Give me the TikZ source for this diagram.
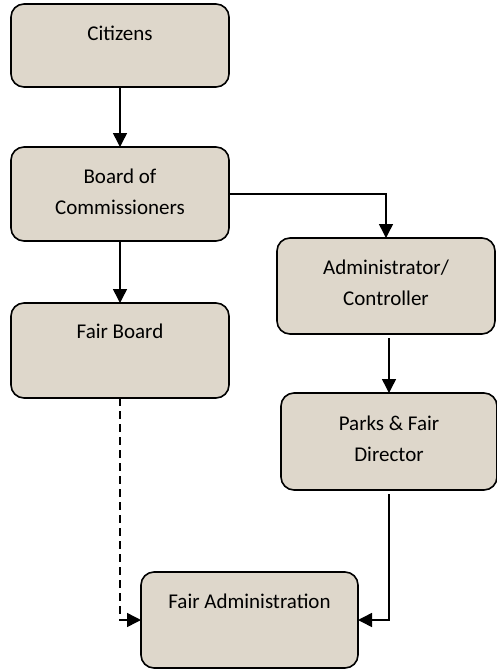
\documentclass[tikz,border=0pt]{standalone}
\usepackage{fontspec}
\setmainfont{Carlito}
\usetikzlibrary{arrows.meta}
\definecolor{boxfill}{RGB}{222,215,203}
\tikzset{
  box/.style={draw=black, line width=1.6pt, fill=boxfill, rounded corners=13pt, inner sep=0pt, outer sep=0pt},
  txt/.style={inner sep=0pt, align=center, font=\fontsize{21}{31}\selectfont, text height=13.5pt, text depth=0pt},
  conn/.style={line width=1.5pt, -{Triangle[length=14pt,width=14pt]}},
  dconn/.style={conn, dash pattern=on 8pt off 5pt},
}
\begin{document}
\begin{tikzpicture}[x=1pt,y=-1pt]
\useasboundingbox (0,0) rectangle (497,670);
\node[box, minimum width=218pt, minimum height=83pt] (cit) at (120,45.5) {};
\node[box, minimum width=218pt, minimum height=94pt] (boc) at (120,194) {};
\node[box, minimum width=218pt, minimum height=95pt] (fb) at (120,350.5) {};
\node[box, minimum width=218pt, minimum height=96pt] (adm) at (386,286) {};
\node[box, minimum width=216pt, minimum height=97pt] (park) at (389,441.5) {};
\node[box, minimum width=217pt, minimum height=96pt] (fa) at (249.5,620) {};

\node[txt] (citT) at (120,34) {Citizens};
\node[txt] (bocT) at (120,207.5) {Board of\\Commissioners};
\node[txt] (fbT) at (120,332) {Fair Board};
\node[txt] (admT) at (386,298.5) {Administrator/\\Controller};
\node[txt] (parkT) at (389,454.5) {Parks \& Fair\\Director};
\node[txt] (faT) at (249.5,602) {Fair Administration};

\draw[conn] (cit.south) -- (boc.north);
\draw[conn] (boc.south) -- (fb.north);
\draw[conn] (boc.east) -| (adm.north);
\draw[conn] ([yshift=-4pt]adm.south -| park.north) -- (park.north);
\draw[conn] ([yshift=-4pt]park.south) |- (fa.east);
\draw[dconn] (fb.south) |- (fa.west);
\end{tikzpicture}
\end{document}
